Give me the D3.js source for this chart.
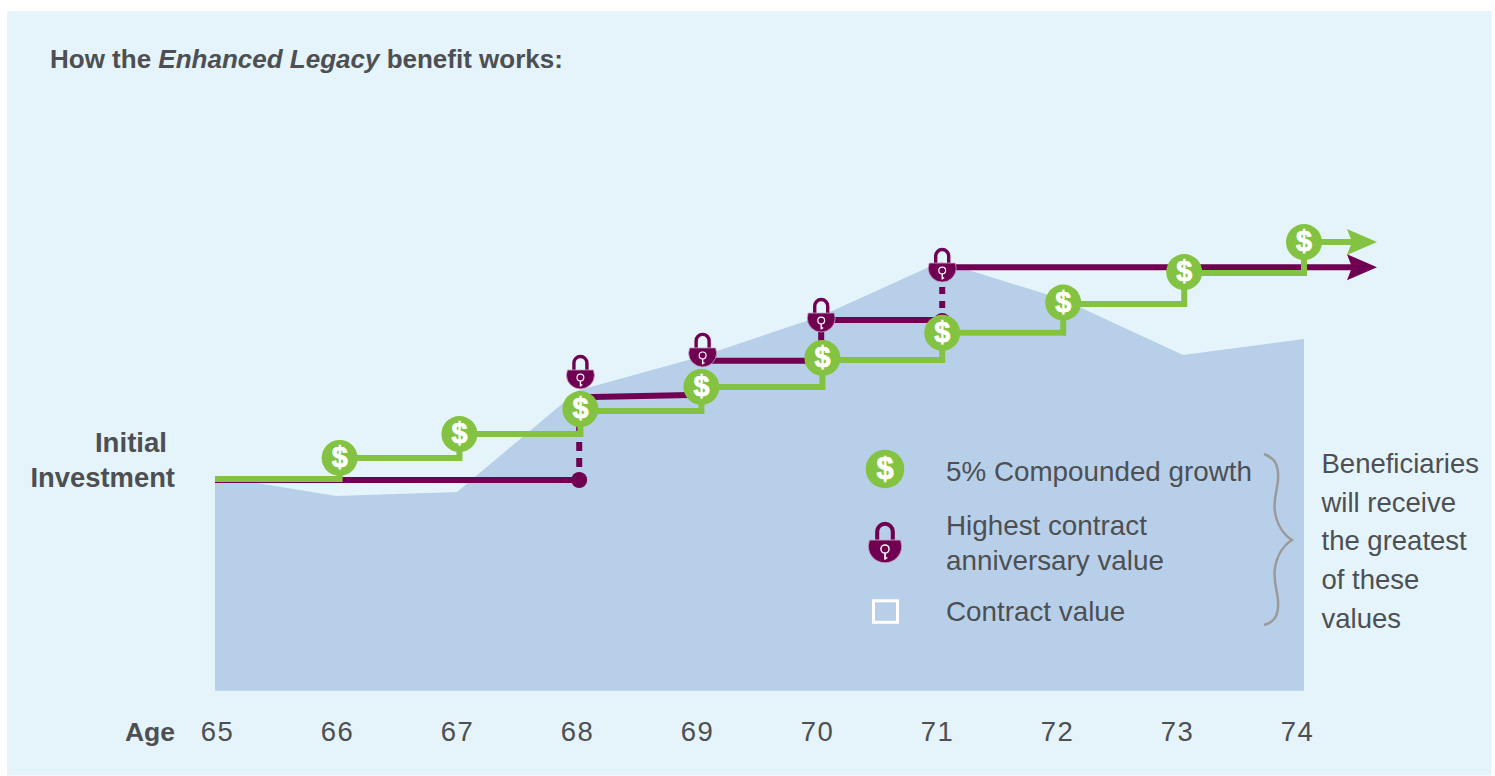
<!DOCTYPE html>
<html><head><meta charset="utf-8">
<script src="https://cdn.jsdelivr.net/npm/d3@7"></script>
<style>html,body{margin:0;padding:0;background:#fff}svg{display:block}</style>
</head><body><div id="chart"></div>
<script>
const ages = [65,66,67,68,69,70,71,72,73,74];
const contractValue = [101.9,92.4,94.3,142.6,158.6,177.9,204,186.2,159.5,167.1];
const stepAges = [65,66.03,67.02,68.02,69.02,70.02,71.01,72.01,73.01,74];
const growthLevels = [100.5,110.5,121.9,132.9,144.3,157.1,170.1,183.8,198.6,213.3];
const growthMarkers = [110.5,121.9,133.8,144.3,158.1,170.1,184.5,199,213.3];
const lockAges = [68.02,69.03,70.01,71.01];
const lockIcons = [152.4,162.9,179.5,203.3];
const highestStart = [139.4,156.8,176.2,201.3];
const highestEnd = [140.6,156.8,176.2,201.3];
const initialValue = 100;
const legendItems = ["5% Compounded growth","Highest contract","anniversary value","Contract value"];
const noteLines = ["Beneficiaries","will receive","the greatest","of these","values"];

const W=1495,H=776, GREEN="#84c341", PURPLE="#6f0052", AREA="#b8cfe9", BG="#e4f4fa", TXT="#4d4f53";
const FONT="'Liberation Sans',Arial,sans-serif";
const x=d3.scaleLinear().domain([65,74]).range([215,1304]);
const y=d3.scaleLinear().domain([0,100]).range([690,480]);
const xLabels=d3.scaleLinear().domain([65,74]).range([217,1297]);

const svg=d3.select("#chart").append("svg").attr("width",W).attr("height",H).attr("viewBox",[0,0,W,H]);
svg.append("rect").attr("x",7).attr("y",11).attr("width",1484.5).attr("height",764.5).attr("fill",BG);

// title
const t=svg.append("text").attr("x",50).attr("y",68).attr("font-family",FONT).attr("font-size",26).attr("font-weight",700).attr("fill",TXT);
t.append("tspan").text("How the ");
t.append("tspan").attr("font-style","italic").text("Enhanced Legacy");
t.append("tspan").text(" benefit works:");

// area
const area=d3.area().x((d,i)=>x(ages[i])).y0(y(-0.4)).y1(d=>y(d));
svg.append("path").datum(contractValue).attr("d",area).attr("fill",AREA);

// purple path
const line=d3.line();
const pW=6, tipX=x(74)+73;
function pur(pts,dash){const p=svg.append("path").attr("d",line(pts)).attr("fill","none").attr("stroke",PURPLE).attr("stroke-width",pW);if(dash)p.attr("stroke-dasharray",dash);return p;}
pur([[x(65),y(initialValue)],[x(68),y(initialValue)]]);
svg.append("circle").attr("cx",x(68.01)).attr("cy",y(initialValue)).attr("r",8).attr("fill",PURPLE);
pur([[x(68.01),y(106.2)],[x(68.01),y(lockIcons[0])]],"9,7");
pur([[x(lockAges[0]),y(highestStart[0])],[x(lockAges[1]),y(highestEnd[0])]]);
pur([[x(lockAges[1]),y(highestStart[1])],[x(lockAges[2]),y(highestEnd[1])]]);
pur([[x(lockAges[2]),y(growthMarkers[4])],[x(lockAges[2]),y(highestStart[2])],[x(lockAges[3]),y(highestEnd[2])]]);
svg.append("circle").attr("cx",x(lockAges[3])).attr("cy",y(highestEnd[2])+1).attr("r",8).attr("fill",PURPLE);
pur([[x(lockAges[3]),y(181.9)],[x(lockAges[3]),y(lockIcons[3])]],"7,7");
pur([[x(lockAges[3]),y(highestStart[3])],[tipX-20,y(highestStart[3])]]);

// green steps
const steps=[];
stepAges.forEach((a,i)=>{ if(i>0) steps.push([x(a),y(growthLevels[i-1])]); steps.push([x(a),y(growthLevels[i])]); });
steps.push([tipX-20,y(growthLevels[9])]);
svg.append("path").attr("d",line(steps)).attr("fill","none").attr("stroke",GREEN).attr("stroke-width",6);

// arrowheads
function arrow(cy,col){svg.append("path").attr("d",`M${tipX},${cy}L${tipX-30},${cy-13}L${tipX-25},${cy}L${tipX-30},${cy+13}Z`).attr("fill",col);}
arrow(y(growthLevels[9]),GREEN);
arrow(y(highestStart[3]),PURPLE);

// icons
function coin(cx,cy,r=18){
  const g=svg.append("g").attr("transform",`translate(${cx},${cy})`);
  g.append("circle").attr("r",r).attr("fill",GREEN);
  g.append("text").attr("y",r*0.5).attr("text-anchor","middle").attr("font-family",FONT).attr("font-weight",700).attr("font-size",r*1.6).attr("fill","#fff").attr("stroke","#fff").attr("stroke-width",0.7).text("$");
}
function lock(cx,cy,s=1){
  const g=svg.append("g").attr("transform",`translate(${cx},${cy}) scale(${s})`);
  g.append("path").attr("d","M-6.5,1V-7A6.5,6.5 0 0 1 6.5,-7V1").attr("fill","none").attr("stroke",PURPLE).attr("stroke-width",3.4);
  g.append("path").attr("d","M-13,0H13L14,5A14,14 0 0 1 -14,5Z").attr("fill",PURPLE).attr("stroke","#c9a3c0").attr("stroke-width",0.8);
  g.append("circle").attr("cy",7.5).attr("r",3.4).attr("fill","none").attr("stroke","#fff").attr("stroke-width",1.2);
  g.append("path").attr("d","M0,11V16.5M0,15H2").attr("stroke","#fff").attr("stroke-width",1.4).attr("fill","none");
}
lockAges.forEach((a,i)=>lock(x(a),y(lockIcons[i])));
growthMarkers.forEach((v,i)=>coin(x(stepAges[i+1]),y(v)));

// Initial Investment, Age
const lbl=(tx,ty,s,fs)=>svg.append("text").attr("x",tx).attr("y",ty).attr("text-anchor","end").attr("font-family",FONT).attr("font-size",fs).attr("font-weight",700).attr("fill",TXT).text(s);
lbl(167,452,"Initial",27.6); lbl(175,487,"Investment",27.4); lbl(175,741,"Age",26.5);

// axis
const ax=d3.axisBottom(xLabels).tickValues(ages).tickSize(0).tickPadding(0).tickFormat(d3.format("d"));
const axG=svg.append("g").attr("transform","translate(0,721)").call(ax);
axG.select(".domain").remove();
axG.selectAll("text").attr("font-family",FONT).attr("font-size",27.5).attr("letter-spacing",1.5).attr("fill",TXT);

// legend
coin(885,469,19.3);
lock(885,540,1.2);
svg.append("rect").attr("x",873.5).attr("y",600.8).attr("width",24).attr("height",21.5).attr("fill","none").attr("stroke","#fff").attr("stroke-width",3);
const lt=(ty,s,tx,fs)=>svg.append("text").attr("x",tx).attr("y",ty).attr("font-family",FONT).attr("font-size",fs).attr("fill",TXT).text(s);
[481,535,570,621].forEach((ty,i)=>lt(ty,legendItems[i],946,27.8));
noteLines.forEach((s,i)=>lt(473+i*38.7,s,1321.5,27.5));
svg.append("path").attr("d","M1264,454C1275,458 1279,465 1278,480C1277,492 1273,500 1275,512C1277,525 1284,535 1292,540C1284,545 1277,555 1275,568C1273,580 1277,590 1278,600C1279,615 1275,622 1264,625").attr("fill","none").attr("stroke","#9a9a9a").attr("stroke-width",2.5);
</script></body></html>
